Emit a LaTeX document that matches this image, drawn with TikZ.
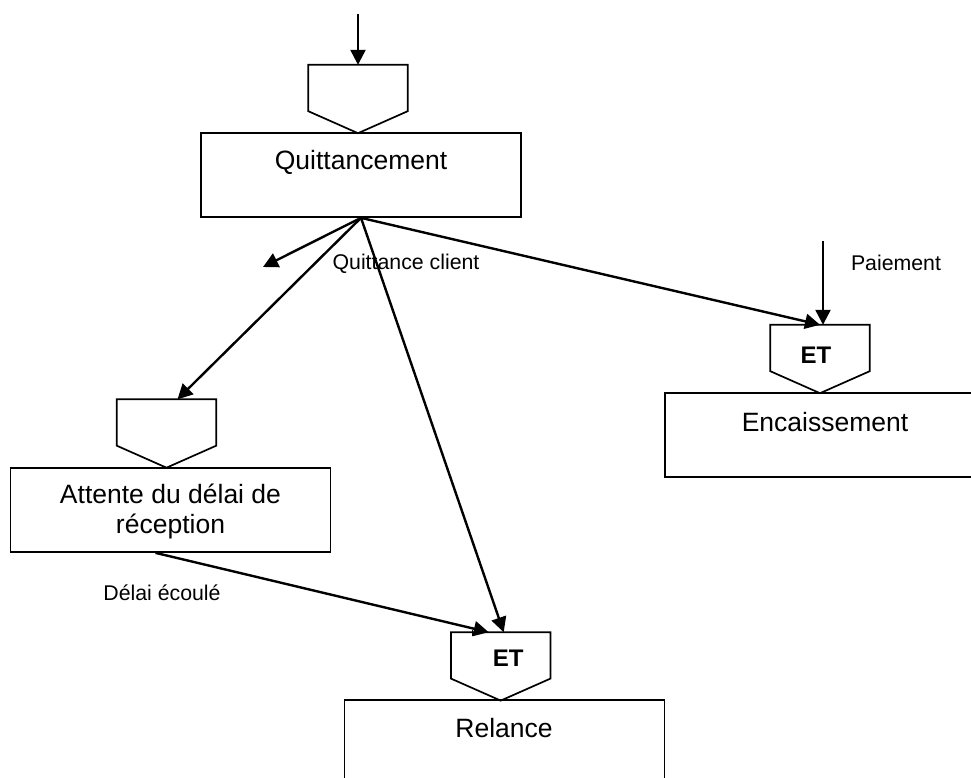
\documentclass[tikz,border=0pt]{standalone}
\usepackage{fontspec}
\setmainfont{Liberation Sans}
\usetikzlibrary{arrows.meta,calc}
\tikzset{
  box/.style={draw, line width=1.7pt, minimum width=320pt, minimum height=84pt, inner sep=0pt},
  evt/.style={minimum width=99pt, minimum height=68pt, inner sep=0pt},
  evtline/.style={line width=1.7pt, line join=miter},
  big/.style={font=\fontsize{26.5}{30}\selectfont, inner sep=0pt, align=center},
  small/.style={font=\fontsize{21.3}{25}\selectfont, inner sep=0pt},
  etx/.style={font=\fontsize{24}{28}\selectfont\bfseries, inner sep=0pt},
  flow/.style={line width=2.4pt, -{Triangle[length=15pt,width=15pt]}},
}
\newcommand\evtshape[1]{\draw[evtline] (#1.north west) -- (#1.north east) -- ([yshift=22pt]#1.south east) -- (#1.south) -- ([yshift=22pt]#1.south west) -- cycle;}
\begin{document}
\begin{tikzpicture}[x=1pt,y=-1pt]
\useasboundingbox (0,0) rectangle (971,778);
\clip (0,0) rectangle (971,778);
\fill[white] (0,0) rectangle (971,778);

% Quittancement
\node[evt] (e1) at (358,99) {};
\evtshape{e1}
\node[box] (q) at (361,175) {};
\node[big] (qt) at (361,162) {Quittancement};

% Attente
\node[evt] (e2) at (166.5,433.5) {};
\evtshape{e2}
\node[box] (a) at (170.5,510) {};
\node[big] (at) at (170.5,511.5) {Attente du délai de\\réception};

% Encaissement
\node[evt] (e3) at (820,359) {};
\evtshape{e3}
\node[etx] (e3t) at (816,355) {ET};
\node[box] (en) at (825,434.7) {};
\node[big] (ent) at (825,421.7) {Encaissement};

% Relance
\node[evt] (e4) at (500.7,666.4) {};
\evtshape{e4}
\node[etx] (e4t) at (508.3,658.3) {ET};
\node[box] (r) at (504.5,742) {};
\node[big] (rt) at (504,728.3) {Relance};

% labels
\node[small] (ql) at (406,264) {Quittance client};
\node[small] (pl) at (896,263) {Paiement};
\node[small] (dl) at (162,593) {Délai écoulé};

% connectors
\coordinate (top) at (358,14);
\coordinate (qc) at (263,267);
\coordinate (pay) at (823,241);
\draw[flow] (top) -- (e1.north);
\draw[flow] (q.south) -- (qc);
\draw[flow] (q.south) -- ([xshift=11pt]e2.north);
\draw[flow] (q.south) -- ([xshift=3pt]e4.north);
\draw[flow] (q.south) -- (e3.north);
\draw[flow] (pay) -- ([xshift=3pt]e3.north);
\draw[flow] ([xshift=-15pt]a.south) -- ([xshift=-12pt]e4.north);
\draw[line width=1pt] ([xshift=-28pt,yshift=2pt]e4.north) -- ([xshift=-28pt,yshift=-4pt]e4.north);
\end{tikzpicture}
\end{document}
